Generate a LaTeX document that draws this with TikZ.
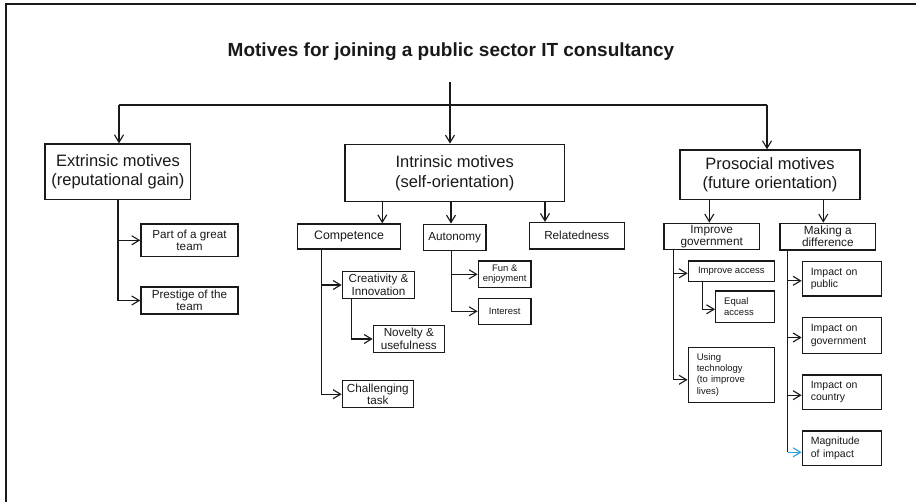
\documentclass[tikz,border=0pt]{standalone}
\usepackage{fontspec}
\setmainfont{Liberation Sans}
\usetikzlibrary{arrows.meta}
\definecolor{ink}{RGB}{25,25,25}
\definecolor{arrblue}{RGB}{40,160,220}
\begin{document}
\begin{tikzpicture}[x=1pt,y=-1pt,
  ln/.style={draw=ink, line width=1.3pt},
  arr/.style={ln, -{Straight Barb[length=7.5pt,width=9pt,line width=1.1pt]}},
  bx/.style 2 args={draw=ink, line width=1.4pt, inner sep=0pt, minimum width=#1, minimum height=#2, align=center, text=ink},
  lbx/.style n args={3}{draw=ink, line width=1.4pt, inner xsep=8.5pt, inner ysep=0pt, minimum width=#1, minimum height=#2, text width=#3, align=left, text=ink},
  big/.style={font=\fontsize{16.5}{19.5}\selectfont},
  mid/.style={font=\fontsize{11.7}{12.5}\selectfont},
  midb/.style={font=\fontsize{11.8}{12}\selectfont},
  sml/.style={font=\fontsize{9.5}{10.5}\selectfont},
  smlt/.style={font=\fontsize{9.5}{11.3}\selectfont},
  imp/.style={font=\fontsize{10.5}{12.5}\selectfont}
]
\useasboundingbox (0,0) rectangle (916,502);
% frame
\draw[draw=ink, line width=2pt] (5.5,502) -- (5.5,4.5) -- (916,4.5);

% title
\node[anchor=base, text=ink, font=\fontsize{19}{22}\selectfont\bfseries] (title) at (451,56.7) {Motives for joining a public sector IT consultancy};

% main boxes
\node[bx={145.7pt}{55.3pt}, big] (ext) at (117.9,171.7) {Extrinsic motives\\(reputational gain)};
\node[bx={219.3pt}{57.4pt}, big] (intr) at (454.7,173) {Intrinsic motives\\(self-orientation)};
\node[bx={180pt}{49.3pt}, big] (pro) at (770,174.7) {Prosocial motives\\(future orientation)};

% extrinsic children
\node[bx={97pt}{32.7pt}, mid] (part) at (189.5,240.3) {Part of a great\\team};
\node[bx={97pt}{27pt}, mid] (pres) at (189.5,300.5) {Prestige of the\\team};

% intrinsic children
\node[bx={103.4pt}{25pt}, font=\fontsize{12.3}{13}\selectfont] (comp) at (349,236.5) {Competence};
\node[bx={62.7pt}{26.4pt}, mid] (auto) at (454.7,237.5) {Autonomy};
\node[bx={95pt}{26.3pt}, mid] (rel) at (576.8,235.8) {Relatedness};
\node[bx={72.4pt}{26.6pt}, mid] (crea) at (378.5,285) {Creativity \&\\Innovation};
\node[bx={71pt}{26.6pt}, mid] (nov) at (408.8,339) {Novelty \&\\usefulness};
\node[bx={71pt}{27pt}, mid] (chal) at (377.8,394.2) {Challenging\\task};
\node[bx={52.7pt}{26.7pt}, sml] (fun) at (504.7,274.3) {Fun \&\\enjoyment};
\node[bx={52.7pt}{26pt}, sml] (int) at (504.7,311.3) {Interest};

% prosocial children
\node[bx={95.3pt}{26pt}, midb] (impg) at (711.7,236.3) {Improve\\government};
\node[bx={95.7pt}{26.7pt}, midb] (mak) at (827.8,236.7) {Making a\\difference};
\node[bx={86pt}{20.7pt}, sml] (iacc) at (731.3,271.3) {Improve access};
\node[lbx={58.6pt}{31.3pt}{41.6pt}, smlt] (eacc) at (745,306.7) {Equal\\access};
\node[lbx={86pt}{55pt}{69pt}, smlt] (tech) at (731.3,374.8) {Using\\technology\\(to improve\\lives)};
\node[lbx={79.4pt}{34.3pt}{62.4pt}, imp] (ipub) at (842,278.8) {Impact on\\public};
\node[lbx={79.4pt}{35.6pt}{62.4pt}, imp] (igov) at (842,335.5) {Impact on\\government};
\node[lbx={79.4pt}{34.3pt}{62.4pt}, imp] (icty) at (842,392.2) {Impact on\\country};
\node[lbx={79.4pt}{34.7pt}{62.4pt}, imp] (mag) at (842,448.3) {Magnitude\\of impact};

% top connectors
\coordinate (hub) at (450,82);
\coordinate (hl) at (119,105);
\coordinate (hr) at (767,105);
\draw[ln] (hl) -- (hr);
\draw[arr] (hub) -- (hub |- intr.north);
\draw[arr] (hl) -- (hl |- ext.north);
\draw[arr] (hr) -- (hr |- pro.north);

% extrinsic
\coordinate (es) at (ext.south);
\draw[arr] (es) |- (part.west);
\draw[arr] (es) |- (pres.west);

% intrinsic down arrows
\coordinate (c1) at ([xshift=33.3pt]comp.north);
\draw[arr] (c1 |- intr.south) -- (c1);
\coordinate (a1) at ([xshift=-3.7pt]auto.north);
\draw[arr] (a1 |- intr.south) -- (a1);
\coordinate (r1) at ([xshift=-31.8pt]rel.north);
\draw[arr] (r1 |- intr.south) -- (r1);

% competence / autonomy spines
\coordinate (cs) at ([xshift=25pt]comp.south west);
\draw[arr] (cs) |- (crea.west);
\draw[arr] (cs) |- (chal.west);
\coordinate (crs) at ([xshift=10pt]crea.south west);
\draw[arr] (crs) |- (nov.west);
\coordinate (as) at ([xshift=-3pt]auto.south);
\draw[arr] (as) |- (fun.west);
\draw[arr] (as) |- (int.west);

% prosocial down arrows
\coordinate (p1) at ([xshift=-2.4pt]impg.north);
\draw[arr] (p1 |- pro.south) -- (p1);
\coordinate (p2) at ([xshift=-4.5pt]mak.north);
\draw[arr] (p2 |- pro.south) -- (p2);

% improve government spine
\coordinate (gs) at ([xshift=10pt]impg.south west);
\draw[arr] (gs) |- ([yshift=-2pt]iacc.west);
\draw[arr] (gs) |- ([yshift=-5pt]tech.west);
\coordinate (ias) at ([xshift=15pt]iacc.south west);
\draw[arr] (ias) |- ([yshift=-2.6pt]eacc.west);

% making a difference spine
\coordinate (ms) at ([xshift=8.3pt]mak.south west);
\draw[arr] (ms) |- ([yshift=-2pt]ipub.west);
\draw[arr] (ms) |- ([yshift=-2pt]igov.west);
\draw[arr] (ms) |- ([yshift=-3pt]icty.west);
\coordinate (magin) at ([yshift=-4pt]mag.west);
\draw[ln] (ms) -- (ms |- magin);
\draw[arr, draw=arrblue] (ms |- magin) -- (magin);
\end{tikzpicture}
\end{document}
